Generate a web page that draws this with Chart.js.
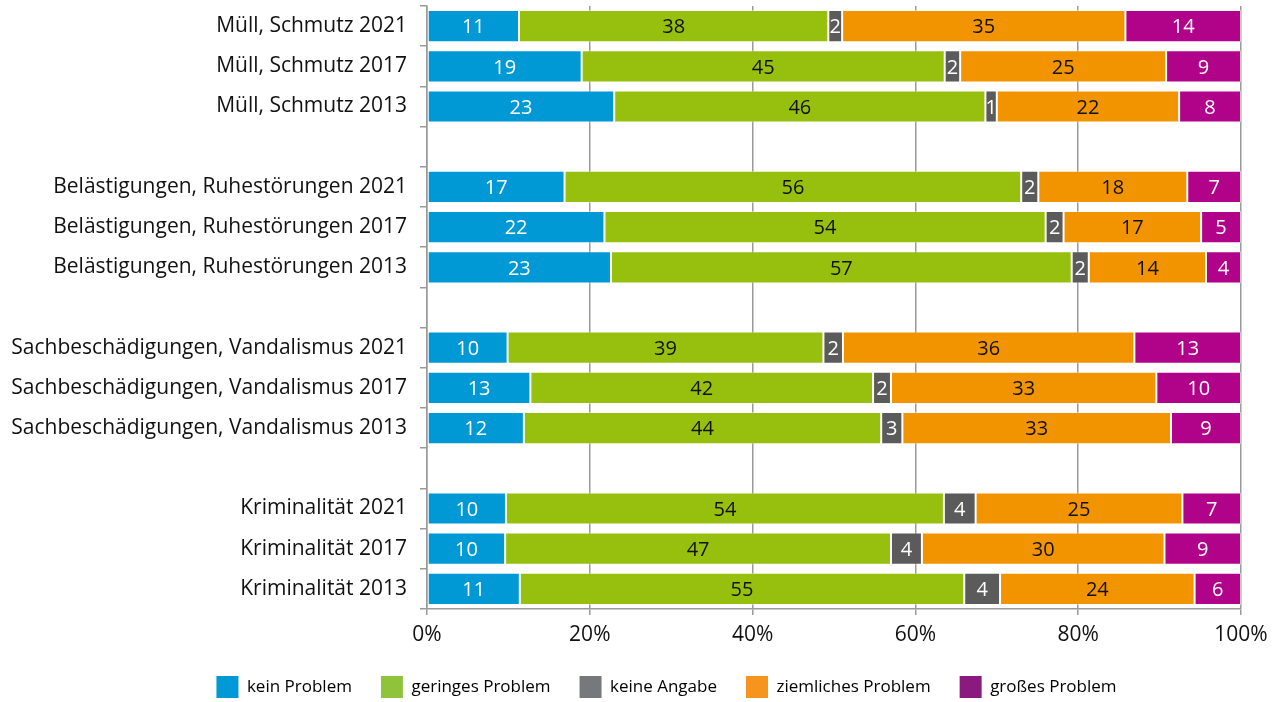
<!DOCTYPE html>
<html>
<head>
<meta charset="utf-8">
<script src="https://cdn.jsdelivr.net/npm/chart.js@4/dist/chart.umd.min.js"></script>
<style>
  html, body { margin: 0; padding: 0; background: #ffffff; }
  #wrap { width: 1279px; height: 702px; position: relative; }
</style>
</head>
<body>
<div id="wrap"><canvas id="c" width="1279" height="702"></canvas></div>
<script>
// Categories (top to bottom); empty strings are spacer rows
const categories = [
  'Müll, Schmutz 2021', 'Müll, Schmutz 2017', 'Müll, Schmutz 2013', '',
  'Belästigungen, Ruhestörungen 2021', 'Belästigungen, Ruhestörungen 2017', 'Belästigungen, Ruhestörungen 2013', '',
  'Sachbeschädigungen, Vandalismus 2021', 'Sachbeschädigungen, Vandalismus 2017', 'Sachbeschädigungen, Vandalismus 2013', '',
  'Kriminalität 2021', 'Kriminalität 2017', 'Kriminalität 2013'
];
const seriesNames = ['kein Problem', 'geringes Problem', 'keine Angabe', 'ziemliches Problem', 'großes Problem'];

const keinProblem       = [11.3, 19.0, 23.0, null, 16.9, 21.8, 22.6, null,  9.9, 12.7, 11.9, null,  9.7,  9.6, 11.4];
const geringesProblem   = [38.0, 44.6, 45.6, null, 56.1, 54.2, 56.6, null, 38.8, 42.1, 43.9, null, 53.8, 47.4, 54.6];
const keineAngabe       = [ 1.7,  1.9,  1.4, null,  2.1,  2.2,  2.1, null,  2.4,  2.2,  2.6, null,  3.9,  3.8,  4.4];
const ziemlichesProblem = [34.8, 25.3, 22.4, null, 18.3, 16.9, 14.4, null, 35.8, 32.6, 33.0, null, 25.4, 29.8, 23.9];
const grossesProblem    = [14.2,  9.2,  7.6, null,  6.6,  4.9,  4.3, null, 13.1, 10.4,  8.6, null,  7.2,  9.4,  5.7];

const xTickValues = [0, 20, 40, 60, 80, 100];

const barColors    = ['#0099d5', '#97bf0d', '#5b5b5b', '#f29400', '#b1038a'];
const legendColors = ['#0099d5', '#8fc33a', '#77787b', '#f7941d', '#8b1a7e'];
const labelColors  = ['#ffffff', '#111111', '#ffffff', '#111111', '#ffffff'];

const FONT = '"Open Sans", "Noto Sans", sans-serif';
const allSeries = [keinProblem, geringesProblem, keineAngabe, ziemlichesProblem, grossesProblem];

const valueLabels = {
  id: 'valueLabels',
  afterDatasetsDraw(chart) {
    const ctx = chart.ctx;
    chart.data.datasets.forEach((ds, i) => {
      const meta = chart.getDatasetMeta(i);
      meta.data.forEach((bar, j) => {
        const v = ds.data[j];
        if (v === null || v === undefined) return;
        const p = bar.getProps(['x', 'y', 'base'], true);
        ctx.save();
        ctx.fillStyle = labelColors[i];
        ctx.font = '20px ' + FONT;
        ctx.textAlign = 'center';
        ctx.textBaseline = 'middle';
        ctx.fillText(String(Math.round(v)), (p.x + p.base) / 2, p.y + 1.5);
        ctx.restore();
      });
    });
  }
};

// shift the legend row horizontally to sit where the reference puts it
const legendShift = {
  id: 'legendShift',
  beforeDraw(chart) {
    const lg = chart.legend;
    if (lg && !lg._shifted) {
      lg.left += 46; lg.right += 46; lg._shifted = true;
    }
  },
  afterUpdate(chart) { if (chart.legend) chart.legend._shifted = false; }
};

new Chart(document.getElementById('c'), {
  type: 'bar',
  data: {
    labels: categories,
    datasets: allSeries.map((arr, i) => ({
      label: seriesNames[i],
      data: arr,
      backgroundColor: barColors[i],
      borderColor: 'rgba(255,255,255,0.45)',
      borderWidth: 1,
      borderSkipped: false,
      categoryPercentage: 0.8,
      barPercentage: 1.0
    }))
  },
  options: {
    indexAxis: 'y',
    responsive: false,
    animation: false,
    devicePixelRatio: 1,
    layout: { padding: { top: 6, right: 38, bottom: -6, left: 0 } },
    plugins: {
      tooltip: { enabled: false },
      legend: {
        position: 'bottom',
        labels: {
          boxWidth: 22,
          boxHeight: 22,
          padding: 29,
          color: '#3c3c3c',
          font: { family: FONT, size: 17 },
          generateLabels(chart) {
            return chart.data.datasets.map((ds, i) => ({
              text: ds.label,
              fillStyle: legendColors[i],
              strokeStyle: legendColors[i],
              lineWidth: 0,
              hidden: false,
              datasetIndex: i
            }));
          }
        }
      }
    },
    scales: {
      x: {
        stacked: true,
        min: 0,
        max: 100,
        afterBuildTicks(scale) { scale.ticks = xTickValues.map(v => ({ value: v })); },
        afterFit(scale) { scale.height = 38; },
        ticks: {
          color: '#111111',
          font: { family: FONT, size: 21 },
          padding: 7,
          maxRotation: 0,
          callback: (v) => v + '%'
        },
        grid: { color: '#9a9a9a', lineWidth: 1.5, tickLength: 6, drawTicks: true },
        border: { color: '#9a9a9a', width: 1.5 }
      },
      y: {
        stacked: true,
        afterFit(scale) { scale.width = 427; scale.paddingTop = 0; scale.paddingBottom = 0; },
        ticks: {
          color: '#111111',
          font: { family: FONT, size: 21 },
          padding: 13,
          autoSkip: false
        },
        grid: { drawOnChartArea: false, color: '#9a9a9a', lineWidth: 1.5, tickLength: 7, offset: true },
        border: { color: '#9a9a9a', width: 1.5 }
      }
    }
  },
  plugins: [valueLabels, legendShift]
});
</script>
</body>
</html>
